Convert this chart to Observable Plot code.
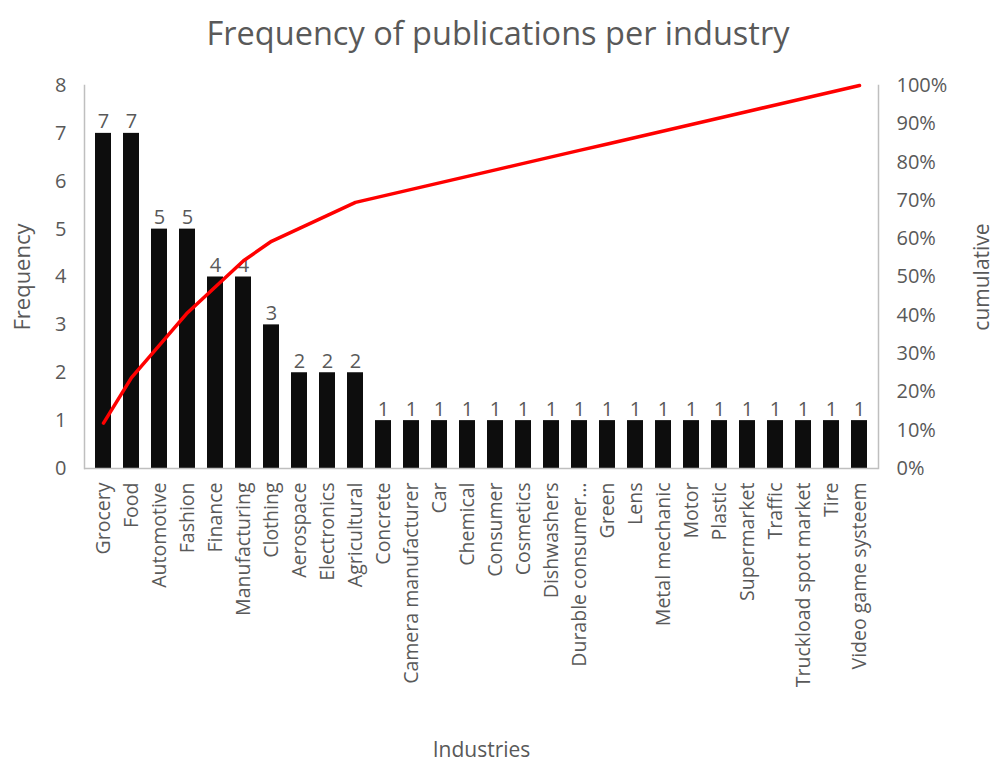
<!DOCTYPE html>
<html>
<head>
<meta charset="utf-8">
<script src="https://cdn.jsdelivr.net/npm/d3@7"></script>
<script src="https://cdn.jsdelivr.net/npm/@observablehq/plot@0.6"></script>
<style>
  body { margin: 0; background: #fff; font-family: "Open Sans", Lato, sans-serif; }
  #title { height: 66px; line-height: 66px; text-align: center; font-size: 32.5px; color: #595959; }
</style>
</head>
<body>
<div id="title">Frequency of publications per industry</div>
<div id="chart"></div>
<script>
const industries = ["Grocery","Food","Automotive","Fashion","Finance","Manufacturing","Clothing","Aerospace","Electronics","Agricultural","Concrete","Camera manufacturer","Car","Chemical","Consumer","Cosmetics","Dishwashers","Durable consumer…","Green","Lens","Metal mechanic","Motor","Plastic","Supermarket","Traffic","Truckload spot market","Tire","Video game systeem"];
const frequency = [7,7,5,5,4,4,3,2,2,2,1,1,1,1,1,1,1,1,1,1,1,1,1,1,1,1,1,1];
const leftTicks = [0,1,2,3,4,5,6,7,8];
const rightTicks = ["0%","10%","20%","30%","40%","50%","60%","70%","80%","90%","100%"];

const total = d3.sum(frequency);
let run = 0;
const data = industries.map((name, i) => {
  run += frequency[i];
  return {name, freq: frequency[i], cum: run / total};
});
const maxY = 8;

const textColor = "#595959";
const axisColor = "#bfbfbf";
const font = "'Open Sans', Lato, sans-serif";

const chart = Plot.plot({
  width: 996,
  height: 699,
  marginLeft: 84,
  marginRight: 118,
  marginTop: 19,
  marginBottom: 297,
  style: {fontFamily: font, color: textColor, background: "#fff"},
  x: {type: "band", domain: industries, paddingInner: 0.44, paddingOuter: 0.22},
  y: {domain: [0, maxY]},
  marks: [
    Plot.barY(data, {x: "name", y: "freq", fill: "#0d0d0d"}),
    Plot.text(data, {x: "name", y: "freq", text: d => String(d.freq), lineAnchor: "bottom", dy: -5, fontSize: 20, fill: textColor}),
    Plot.lineY(data, {x: "name", y: d => d.cum * maxY, stroke: "#ff0000", strokeWidth: 3.5, strokeLinecap: "round"}),
    Plot.ruleY([0], {stroke: axisColor, strokeWidth: 1.5}),
    Plot.frame({anchor: "left", stroke: axisColor, strokeWidth: 1.5}),
    Plot.frame({anchor: "right", stroke: axisColor, strokeWidth: 1.5}),
    Plot.axisY(leftTicks, {anchor: "left", tickSize: 0, tickPadding: 18, fontSize: 20, fill: textColor, label: null}),
    Plot.axisY(rightTicks.map((t, i) => i * maxY / 10), {anchor: "right", tickSize: 0, tickPadding: 18, fontSize: 20, fill: textColor, label: null, tickFormat: (d, i) => rightTicks[i], textAnchor: "start"}),
    Plot.axisX({tickRotate: -90, tickSize: 0, tickPadding: 14, fontSize: 19.5, fill: textColor, label: null}),
    Plot.text(["Frequency"], {frameAnchor: "left", textAnchor: "middle", lineAnchor: "middle", dx: -62, rotate: -90, fontSize: 22, fill: textColor}),
    Plot.text(["cumulative"], {frameAnchor: "right", textAnchor: "middle", lineAnchor: "middle", dx: 104, rotate: -90, fontSize: 21, fill: textColor}),
    Plot.text(["Industries"], {frameAnchor: "bottom", lineAnchor: "middle", dy: 282, fontSize: 21, fill: textColor})
  ]
});
document.getElementById("chart").appendChild(chart);
</script>
</body>
</html>
